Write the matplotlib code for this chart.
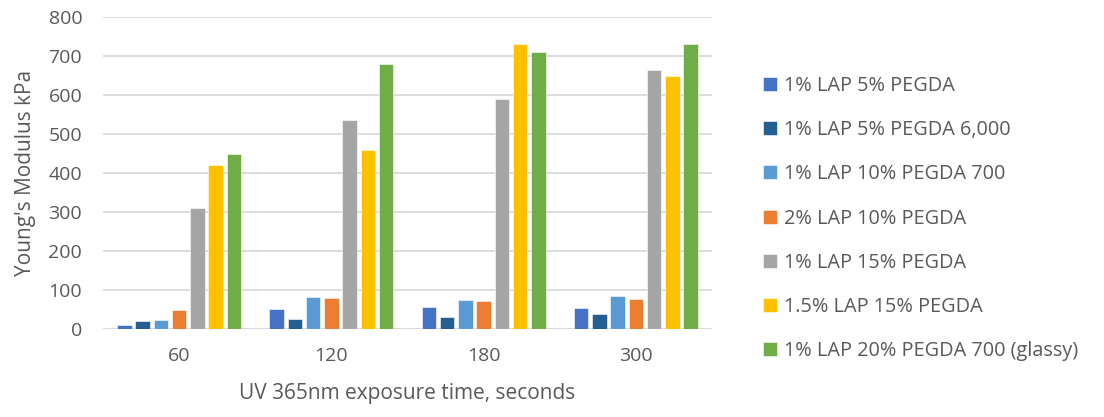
import matplotlib.pyplot as plt
import numpy as np

plt.rcParams['font.family'] = ['Open Sans', 'DejaVu Sans']

times = ["60", "120", "180", "300"]
series_names = ["1% LAP 5% PEGDA", "1% LAP 5% PEGDA 6,000", "1% LAP 10% PEGDA 700",
                "2% LAP 10% PEGDA", "1% LAP 15% PEGDA", "1.5% LAP 15% PEGDA",
                "1% LAP 20% PEGDA 700 (glassy)"]
lap1_peg5 = [11, 51, 56, 53]
lap1_peg5_6000 = [21, 26, 32, 38]
lap1_peg10_700 = [23, 81, 74, 85]
lap2_peg10 = [49, 79, 71, 76]
lap1_peg15 = [310, 535, 590, 665]
lap15_peg15 = [420, 460, 730, 650]
lap1_peg20_700 = [450, 680, 710, 730]

colors = ['#4472C4', '#255E91', '#5B9BD5', '#ED7D31', '#A5A5A5', '#FFC000', '#70AD47']
all_series = [lap1_peg5, lap1_peg5_6000, lap1_peg10_700, lap2_peg10,
              lap1_peg15, lap15_peg15, lap1_peg20_700]

fig = plt.figure(figsize=(11.04, 4.17), dpi=100)
ax = fig.add_axes([103/1104, 1 - 329/417, (712-103)/1104, (329-17)/417])

x = np.arange(len(times))
pitch = 0.12
w = 0.095
for i, vals in enumerate(all_series):
    ax.bar(x + (i - 3) * pitch, vals, width=w, color=colors[i], label=series_names[i],
           edgecolor='white', linewidth=0.4, zorder=3)

txt = '#595959'
ax.set_ylim(0, 800)
ax.set_xlim(-0.5, 3.5)
ax.set_yticks(range(0, 801, 100))
ax.set_xticks(x)
ax.set_xticklabels(times)
ax.grid(axis='y', color='#d9d9d9', linewidth=1.3, zorder=0)
for s in ax.spines.values():
    s.set_visible(False)
ax.axhline(0, color='#d9d9d9', linewidth=1.5, zorder=1)
ax.tick_params(axis='both', length=0, labelsize=14, colors=txt)
ax.tick_params(axis='x', pad=13)
ax.tick_params(axis='y', pad=15)
ax.set_ylabel("Young's Modulus kPa", fontsize=15, color=txt, labelpad=9)
ax.set_xlabel("UV 365nm exposure time, seconds", fontsize=15, color=txt, labelpad=13)

leg = fig.legend(loc='upper left', bbox_to_anchor=(745/1104, 1 - 58/417), frameon=False,
                 fontsize=14.3, labelspacing=1.22, handlelength=0.7, handleheight=0.7,
                 handletextpad=0.35)
for t in leg.get_texts():
    t.set_color(txt)

fig.savefig('out.png', dpi=100)
